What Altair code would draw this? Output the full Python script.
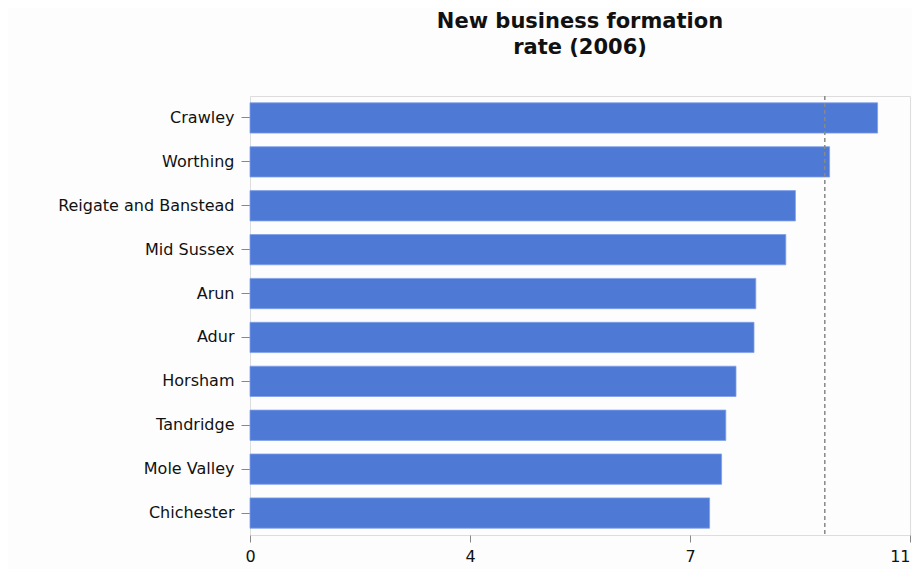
import altair as alt
import pandas as pd

districts = ["Crawley", "Worthing", "Reigate and Banstead", "Mid Sussex", "Arun",
             "Adur", "Horsham", "Tandridge", "Mole Valley", "Chichester"]
rates = [10.46, 9.66, 9.09, 8.93, 8.43, 8.40, 8.10, 7.93, 7.86, 7.66]
reference_rate = [9.58]
x_ticks = [0, 11 / 3, 22 / 3, 11]
x_domain = [0, 11]

df = pd.DataFrame({"district": districts, "rate": rates})
ref_df = pd.DataFrame({"ref": reference_rate})

font = "DejaVu Sans"

bars = alt.Chart(df).mark_bar(color="#4E79D5", stroke="#7FA0E8", strokeWidth=0.8).encode(
    x=alt.X("rate:Q",
            scale=alt.Scale(domain=x_domain, nice=False, zero=True),
            axis=alt.Axis(values=x_ticks, format=".0f", title=None, grid=False,
                          domain=False, tickColor="#888888", tickSize=7,
                          labelPadding=6, labelFontSize=16, labelFont=font,
                          labelColor="#111111", labelFlush=False,
                          labelAlign=alt.ExprRef("datum.value >= 10.9 ? 'right' : 'center'"))),
    y=alt.Y("district:N", sort=districts,
            scale=alt.Scale(paddingInner=0.31, paddingOuter=0.155),
            axis=alt.Axis(title=None, domain=False, tickColor="#888888", tickSize=9,
                          labelPadding=7, labelFontSize=16, labelFont=font,
                          labelColor="#111111", labelBaseline="middle")),
)

rule = alt.Chart(ref_df).mark_rule(color="#888888", strokeDash=[4, 3], strokeWidth=1.5).encode(
    x=alt.X("ref:Q", scale=alt.Scale(domain=x_domain, nice=False))
)

chart = (bars + rule).properties(
    width=660,
    height=439,
    title=alt.TitleParams(
        text=["New business formation", "rate (2006)"],
        font=font, fontSize=21, fontWeight="bold", color="#111111",
        anchor="middle", offset=37, lineHeight=26,
    ),
    autosize=alt.AutoSizeParams(type="none"),
    padding={"left": 242, "top": 88, "right": 2, "bottom": 34},
).configure_view(
    stroke="#999999", strokeWidth=2
).configure(background="#FDFDFD")

chart.save("out.html", embed_options={"renderer": "svg", "actions": False})
